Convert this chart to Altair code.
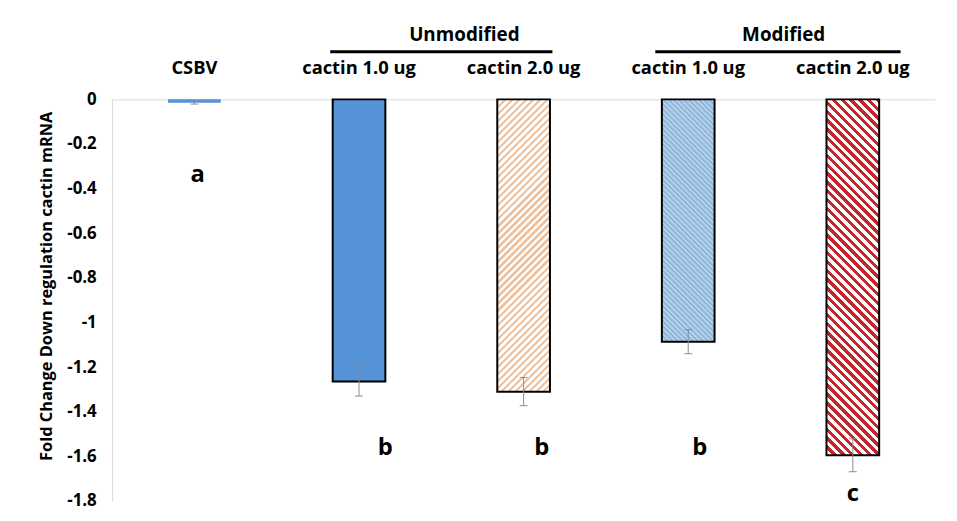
import math
import altair as alt
import pandas as pd

# ---------------- data ----------------
keys = ["CSBV", "U1", "U2", "M1", "M2"]
labels = ["CSBV", "cactin 1.0 ug", "cactin 2.0 ug", "cactin 1.0 ug", "cactin 2.0 ug"]
values = [-0.015, -1.265, -1.31, -1.086, -1.595]
errors = [0.006, 0.065, 0.063, 0.054, 0.074]
letters = ["a", "b", "b", "b", "c"]
letter_y = [-0.34, -1.565, -1.565, -1.565, -1.77]

groups = ["Unmodified", "Modified"]
group_first = [1, 3]
group_last = [2, 4]

y_ticks = [0, -0.2, -0.4, -0.6, -0.8, -1.0, -1.2, -1.4, -1.6, -1.8]

# ---------------- layout / style ----------------
W, H = 830, 405
Y_MIN, Y_MAX = -1.8, 0.0
PX_PER_UNIT = H / (Y_MAX - Y_MIN)
N = len(keys)
STEP = W / N
BAR_HALF = 0.16            # half bar width, in category steps
BAR_W = 2 * BAR_HALF * STEP
CAP_HALF = 4 / STEP
LINE_PAD_LEFT = [0.175, 0.2]
LINE_PAD_RIGHT = [0.175, 0.29]
GROUP_TEXT_SHIFT = [0.14, 0.08]
LETTER_SHIFT = [0.02, 0.16, 0.11, 0.07, 0.0]
FONT = "Open Sans"
BLUE = "#5592D6"


def stripes(value, period, bg, fg, frac, slash=True, soft=False):
    """Diagonal hatch drawn with a linear gradient (bbox units)."""
    w = BAR_W
    h = abs(value) * PX_PER_UNIT
    r = h / w
    k = (1 + r) / (1 + r * r)
    if slash:
        x1, y1, x2, y2 = 0, 0, k, k * r
    else:
        x1, y1, x2, y2 = 1, 0, 1 - k, k * r
    n = (w + h) / (period * math.sqrt(2))
    stops = []
    for i in range(int(math.ceil(n))):
        a = min(i / n, 1)
        b = min((i + frac) / n, 1)
        c = min((i + 1) / n, 1)
        if soft:
            stops += [
                {"offset": round(a, 5), "color": fg},
                {"offset": round((a + b) / 2, 5), "color": fg},
                {"offset": round((b + c) / 2, 5), "color": bg},
            ]
        else:
            stops += [
                {"offset": round(a, 5), "color": fg},
                {"offset": round(b, 5), "color": fg},
                {"offset": round(b, 5), "color": bg},
                {"offset": round(c, 5), "color": bg},
            ]
    return {"gradient": "linear", "x1": x1, "y1": y1, "x2": x2, "y2": y2, "stops": stops}


fills = {
    "CSBV": BLUE,
    "U1": BLUE,
    "U2": stripes(values[2], 5.0, "#FFFFFF", "#EEC3A2", 0.45, slash=True),
    "M1": stripes(values[3], 3.6, "#C3DBF0", "#8FB5DB", 0.5, slash=False, soft=True),
    "M2": stripes(values[4], 6.3, "#FFFFFF", "#C4262D", 0.5, slash=False),
}

df = pd.DataFrame({
    "key": keys, "label": labels, "value": values, "err": errors,
    "letter": letters, "letter_y": letter_y, "idx": list(range(N)),
    "shift": LETTER_SHIFT,
})
gdf = pd.DataFrame({
    "group": groups, "first": group_first, "last": group_last,
    "padl": LINE_PAD_LEFT, "padr": LINE_PAD_RIGHT, "tshift": GROUP_TEXT_SHIFT,
})

xs = alt.Scale(domain=[0, N], nice=False, zero=False)
ys = alt.Scale(domain=[Y_MIN, Y_MAX], nice=False, zero=False)

xaxis = alt.Axis(orient="top", labels=False, ticks=False, grid=False, title=None,
                 domainColor="#D9D9D9", domainWidth=1)
yaxis = alt.Axis(
    title="Fold Change Down regulation cactin mRNA",
    values=y_ticks, ticks=False, grid=False,
    domainColor="#D9D9D9", domainWidth=1,
    labelExpr="datum.value == 0 ? '0' : toString(round(datum.value * 10) / 10)",
    labelFont=FONT, labelFontSize=17, labelFontWeight="bold", labelColor="#000000",
    labelPadding=16,
    titleFont=FONT, titleFontSize=16.5, titleFontWeight="bold", titleColor="#000000",
    titleX=-61, titleY=188, titleBaseline="alphabetic", titleAlign="center", titleAngle=270,
)

base = alt.Chart(df).transform_calculate(
    pos="datum.idx + 0.5",
    bx0=f"datum.idx + 0.5 - {BAR_HALF}",
    bx1=f"datum.idx + 0.5 + {BAR_HALF}",
    cx0=f"datum.idx + 0.5 - {CAP_HALF}",
    cx1=f"datum.idx + 0.5 + {CAP_HALF}",
    lo="datum.value - datum.err",
    hi="datum.value + datum.err",
    lx="datum.idx + 0.5 + datum.shift",
)

bar_layers = []
for key in keys:
    solid_small = key == "CSBV"
    mk = dict(fill=fills[key], stroke="#000000", strokeWidth=0 if solid_small else 2)
    bar_layers.append(
        base.transform_filter(alt.datum.key == key).mark_bar(**mk).encode(
            x=alt.X("bx0:Q", scale=xs, axis=xaxis),
            x2="bx1:Q",
            y=alt.Y("value:Q", scale=ys, axis=yaxis),
            y2=alt.datum(0),
        )
    )

err_stem = base.mark_rule(color="#8C8C8C", strokeWidth=1).encode(
    x=alt.X("pos:Q", scale=xs, axis=xaxis),
    y=alt.Y("lo:Q", scale=ys, axis=yaxis),
    y2="hi:Q",
)
err_cap_lo = base.mark_rule(color="#8C8C8C", strokeWidth=1).encode(
    x=alt.X("cx0:Q", scale=xs, axis=xaxis), x2="cx1:Q",
    y=alt.Y("lo:Q", scale=ys, axis=yaxis),
)
err_cap_hi = base.mark_rule(color="#8C8C8C", strokeWidth=1).encode(
    x=alt.X("cx0:Q", scale=xs, axis=xaxis), x2="cx1:Q",
    y=alt.Y("hi:Q", scale=ys, axis=yaxis),
)

letters_layer = base.mark_text(font=FONT, fontSize=24, fontWeight="bold",
                               color="#000000", baseline="middle").encode(
    x=alt.X("lx:Q", scale=xs, axis=xaxis),
    y=alt.Y("letter_y:Q", scale=ys, axis=yaxis),
    text="letter:N",
)

cat_labels = base.mark_text(font=FONT, fontSize=18.5, fontWeight="bold",
                            color="#000000", baseline="alphabetic").encode(
    x=alt.X("pos:Q", scale=xs, axis=xaxis),
    y=alt.value(-26),
    text="label:N",
)

gbase = alt.Chart(gdf).transform_calculate(
    gx0="datum.first + 0.5 - datum.padl",
    gx1="datum.last + 0.5 + datum.padr",
    gc="(datum.first + datum.last) / 2 + 0.5 + datum.tshift",
)
group_lines = gbase.mark_rule(color="#000000", strokeWidth=3).encode(
    x=alt.X("gx0:Q", scale=xs, axis=xaxis), x2="gx1:Q",
    y=alt.value(-48),
)
group_text = gbase.mark_text(font=FONT, fontSize=19, fontWeight="bold",
                             color="#000000", baseline="alphabetic").encode(
    x=alt.X("gc:Q", scale=xs, axis=xaxis),
    y=alt.value(-59),
    text="group:N",
)

chart = alt.layer(
    *bar_layers, err_stem, err_cap_lo, err_cap_hi,
    letters_layer, cat_labels, group_lines, group_text,
).properties(
    width=W, height=H,
    autosize=alt.AutoSizeParams(type="none"),
    padding={"left": 105, "top": 90, "right": 14, "bottom": 10},
    background="#FFFFFF",
).configure_view(stroke=None)

chart.save("out.html", embed_options={"renderer": "svg", "actions": False})
